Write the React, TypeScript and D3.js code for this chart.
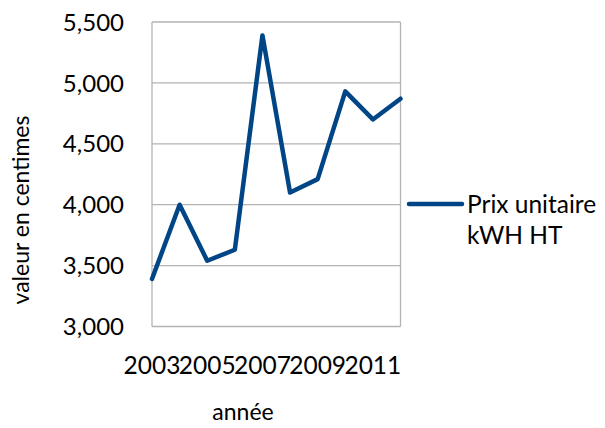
import React from 'react';
import * as d3 from 'd3';

// chart data
const years = [2003, 2004, 2005, 2006, 2007, 2008, 2009, 2010, 2011, 2012];
const prix = [3390, 4000, 3540, 3630, 5390, 4100, 4210, 4930, 4700, 4870];
const yTicks = [3000, 3500, 4000, 4500, 5000, 5500];
const xLabels = [2003, 2005, 2007, 2009, 2011];
const seriesName = ['Prix unitaire', 'kWH HT'];

const W = 605;
const H = 428;
const plot = { left: 152, right: 400.5, top: 22, bottom: 326.5 };
const lineColor = '#004586';
const gridColor = '#b3b3b3';
const font = 'Lato, "Noto Sans", sans-serif';

export default function App() {
    const x = d3.scaleLinear()
        .domain([years[0], years[years.length - 1]])
        .range([plot.left, plot.right]);
    const y = d3.scaleLinear()
        .domain([3000, 5500])
        .range([plot.bottom, plot.top]);

    const line = d3.line<number>()
        .x((_, i) => x(years[i]))
        .y((d) => y(d));

    const fmt = d3.format(',');

    return (
        <svg width={W} height={H} style={{ position: 'absolute', left: 0, top: 0, background: '#fff' }}>
            {/* grid */}
            {yTicks.map((t) => (
                <line key={t} x1={plot.left} x2={plot.right} y1={y(t)} y2={y(t)}
                    stroke={gridColor} strokeWidth={1.3} />
            ))}
            <line x1={plot.left} x2={plot.left} y1={plot.top} y2={plot.bottom} stroke={gridColor} strokeWidth={1.3} />
            <line x1={plot.right} x2={plot.right} y1={plot.top} y2={plot.bottom} stroke={gridColor} strokeWidth={1.3} />

            {/* y tick labels */}
            {yTicks.map((t) => (
                <text key={t} x={124} y={y(t)} dy="0.36em" textAnchor="end"
                    fontFamily={font} fontSize={24} fill="#000">{fmt(t)}</text>
            ))}

            {/* x tick labels */}
            {xLabels.map((yr) => (
                <text key={yr} x={x(yr)} y={374} textAnchor="middle"
                    fontFamily={font} fontSize={24.5} fill="#000">{yr}</text>
            ))}

            {/* series */}
            <path d={line(prix) ?? ''} fill="none" stroke={lineColor} strokeWidth={4.5}
                strokeLinejoin="round" strokeLinecap="round" />

            {/* axis titles */}
            <text transform={`translate(29,210) rotate(-90)`} textAnchor="middle"
                fontFamily={font} fontSize={23} fill="#000">valeur en centimes</text>
            <text x={243} y={420} textAnchor="middle" fontFamily={font} fontSize={23} fill="#000">année</text>

            {/* legend */}
            <line x1={409} x2={462} y1={204} y2={204} stroke={lineColor} strokeWidth={4.5} strokeLinecap="round" />
            {seriesName.map((s, i) => (
                <text key={s} x={467} y={213 + i * 31} fontFamily={font} fontSize={24.5} fill="#000">{s}</text>
            ))}
        </svg>
    );
}
